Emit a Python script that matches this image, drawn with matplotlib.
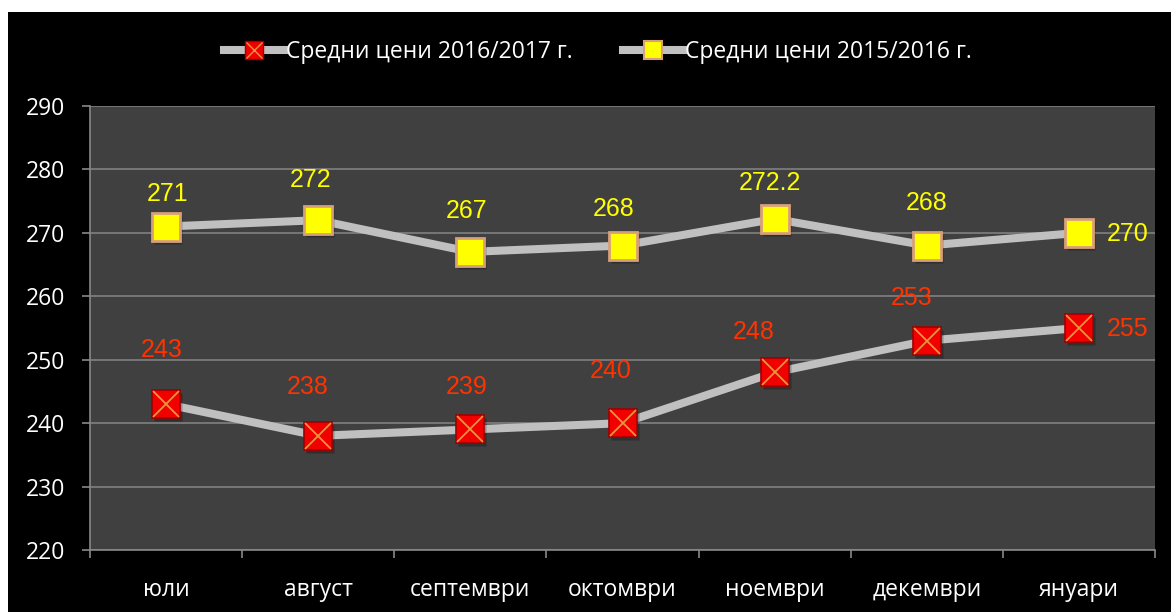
import matplotlib
matplotlib.use("Agg")
import matplotlib.pyplot as plt
from matplotlib.lines import Line2D
from matplotlib.patches import Rectangle
from matplotlib.transforms import ScaledTranslation

# данни
months = ["юли", "август", "септември", "октомври", "ноември", "декември", "януари"]
prices_1617 = [243, 238, 239, 240, 248, 253, 255]
prices_1516 = [271, 272, 267, 268, 272.2, 268, 270]
labels_1617 = ["243", "238", "239", "240", "248", "253", "255"]
labels_1516 = ["271", "272", "267", "268", "272.2", "268", "270"]
series_names = ["Средни цени 2016/2017 г.", "Средни цени 2015/2016 г."]

# отместване на етикетите (пиксели), като в Excel
off_1617 = [(-4, 54), (-11, 49), (-4, 42), (-12, 52), (-21, 40), (-15, 43), (49, -1)]
off_1516 = [(1, 33), (-8, 40), (-4, 41), (-9, 37), (-5, 36), (0, 43), (49, -1)]

LINE_C = "#c0c0c0"
RED_C = "#ff3300"
YEL_C = "#ffff00"

fig = plt.figure(figsize=(11.71, 6.12), dpi=100, facecolor="white")
fig.patches.append(Rectangle((8 / 1171, 0), 1, 1 - 12 / 612, transform=fig.transFigure,
                             facecolor="black", edgecolor="none", zorder=-10))

ax = fig.add_axes([90 / 1171, 1 - 550 / 612, 1065 / 1171, 444 / 612])
ax.set_facecolor("#404040")

x = list(range(len(months)))

# линии
ax.plot(x, prices_1617, color=LINE_C, lw=5.8, zorder=3, solid_capstyle="butt")
ax.plot(x, prices_1516, color=LINE_C, lw=5.8, zorder=3, solid_capstyle="butt")

# сенки на маркерите
shadow = ax.transData + ScaledTranslation(2 / 100, -3 / 100, fig.dpi_scale_trans)
for vals in (prices_1617, prices_1516):
    ax.plot(x, vals, ls="none", marker="s", ms=20, mfc="black", mec="none", alpha=0.25,
            zorder=3.5, transform=shadow)

# маркери
ax.plot(x, prices_1617, ls="none", marker="s", ms=20, mfc="#f20000", mec="#a00000", mew=1.2, zorder=4)
ax.plot(x, prices_1617, ls="none", marker="x", ms=19, mec="#e8963c", mew=1.3, zorder=5)
ax.plot(x, prices_1516, ls="none", marker="s", ms=20, mfc="#ffff00", mec="#d8a07a", mew=2, zorder=4)

# етикети
for i in x:
    ax.annotate(labels_1617[i], (i, prices_1617[i]), xytext=off_1617[i], textcoords="offset pixels",
                ha="center", va="center", color=RED_C, fontsize=18, family="Liberation Sans", zorder=6)
    ax.annotate(labels_1516[i], (i, prices_1516[i]), xytext=off_1516[i], textcoords="offset pixels",
                ha="center", va="center", color=YEL_C, fontsize=18, family="Liberation Sans", zorder=6)

ax.set_xlim(-0.5, len(months) - 0.5)
ax.set_ylim(220, 290)
ax.set_yticks(range(220, 291, 10))
ax.set_xticks(x)
ax.set_xticklabels(months)
ax.set_xticks([i - 0.5 for i in range(len(months) + 1)], minor=True)
ax.tick_params(axis="x", which="major", length=0, pad=20, labelsize=16.5, labelcolor="white")
ax.tick_params(axis="x", which="minor", length=6, width=1.2, color="#888888", direction="out")
ax.tick_params(axis="y", length=6, width=1.2, color="#888888", pad=12, labelsize=16.5, labelcolor="white")
for t in ax.get_xticklabels() + ax.get_yticklabels():
    t.set_family("Open Sans")

ax.grid(axis="y", color="#808080", lw=1.2)
ax.set_axisbelow(True)
for s in ("top", "right"):
    ax.spines[s].set_visible(False)
for s in ("left", "bottom"):
    ax.spines[s].set_color("#888888")
    ax.spines[s].set_linewidth(1.2)

# легенда
h1 = Line2D([], [], color=LINE_C, lw=5.8, marker="s", ms=13, mfc="#f20000", mec="#a00000")
h1x = Line2D([], [], ls="none", marker="x", ms=12, mec="#e8963c", mew=1.0)
h2 = Line2D([], [], color=LINE_C, lw=5.8, marker="s", ms=13, mfc="#ffff00", mec="#d8a07a", mew=1.5)
leg = fig.legend([(h1, h1x), h2], series_names, loc="center", bbox_to_anchor=(598 / 1171, 1 - 52 / 612),
                 ncol=2, frameon=False, handlelength=2.6, handletextpad=0.1, columnspacing=2.2,
                 prop={"family": "Open Sans", "size": 16.5})
for t in leg.get_texts():
    t.set_color("white")

fig.savefig("out.png", dpi=100, facecolor=fig.get_facecolor())
